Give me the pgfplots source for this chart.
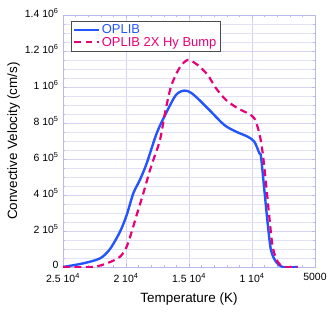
\documentclass[border=0pt]{standalone}
\usepackage{pgfplots}
\pgfplotsset{compat=1.18}
\usepackage{fontspec}
\setmainfont{Liberation Sans}
\definecolor{cblue}{RGB}{35,85,255}
\definecolor{cpink}{RGB}{232,0,120}
\definecolor{frame}{RGB}{185,185,235}
\definecolor{gmaj}{RGB}{212,212,242}
\definecolor{gmin}{RGB}{226,226,247}
\begin{document}
\begin{tikzpicture}
\begin{axis}[
  scale only axis, width=252bp, height=252bp,
  x dir=reverse,
  xmin=5000, xmax=25000, ymin=0, ymax=1400000,
  xtick={25000,20000,15000,10000,5000},
  xticklabels={2.5 10\textsuperscript{4},2 10\textsuperscript{4},1.5 10\textsuperscript{4},1 10\textsuperscript{4},5000},
  ytick={0,200000,400000,600000,800000,1000000,1200000,1400000},
  yticklabels={0,2 10\textsuperscript{5},4 10\textsuperscript{5},6 10\textsuperscript{5},8 10\textsuperscript{5},1 10\textsuperscript{6},1.2 10\textsuperscript{6},1.4 10\textsuperscript{6}},
  scaled ticks=false,
  minor x tick num=4, minor y tick num=3,
  xmajorgrids, ymajorgrids, yminorgrids,
  major grid style={gmaj, line width=0.5pt},
  minor grid style={gmin, line width=0.5pt},
  axis line style={frame, line width=0.8pt},
  tick style={frame},
  tick align=inside,
  major tick length=3bp, minor tick length=2bp,
  tick label style={font=\fontsize{10.5}{12}\selectfont},
  xticklabel style={yshift=-2.5bp},
  yticklabel style={xshift=-1bp, yshift=2bp},
  xlabel={Temperature (K)},
  ylabel={Convective Velocity (cm/s)},
  label style={font=\fontsize{13.5}{15}\selectfont},
  xlabel style={yshift=-4bp},
  ylabel style={yshift=-2bp},
  legend style={at={(0.032,0.977)}, anchor=north west, draw=black!70, line width=0.6pt,
    font=\fontsize{13}{14}\selectfont, inner sep=1.5pt, row sep=-2pt, fill=white},
  legend image post style={xscale=1.45},
  legend cell align=left,
]
\addplot[cblue, line width=2.4pt, smooth] coordinates {
(25000,0) (23413,20000) (22063,48000) (21270,100000) (20476,196000) (19944,289000)
(19420,409000) (18889,485000) (18357,576000) (17563,743000) (16825,854000)
(16031,956000) (15373,980000) (14841,968000) (14182,928000) (13254,863000)
(12198,789000) (11270,752000) (10341,724000) (9814,696000) (9417,632000)
(9286,613000) (9020,428000) (8757,243000) (8492,94000) (8095,29000) (7563,0) (6373,0)
};
\addlegendentry{\textcolor{cblue}{OPLIB}}
\addplot[cpink, line width=2.2pt, dash pattern=on 7pt off 4.5pt, smooth] coordinates {
(25000,0) (22722,0) (21534,20000) (20476,57000) (19944,113000) (19548,196000)
(19151,289000) (18627,409000) (18095,539000) (17833,594000) (17302,706000)
(16905,854000) (16429,1002000) (15770,1104000) (15103,1150000) (14309,1122000)
(13516,1067000) (12857,993000) (12063,928000) (11135,882000) (10341,854000)
(9814,826000) (9417,743000) (9148,632000) (8889,465000) (8627,280000)
(8360,113000) (7960,29000) (7436,0) (6373,0)
};
\addlegendentry{\textcolor{cpink}{OPLIB 2X Hy Bump}}
\end{axis}
\pgfresetboundingbox
\useasboundingbox (-63bp,-46bp) rectangle (269bp,267bp);
\end{tikzpicture}
\end{document}
